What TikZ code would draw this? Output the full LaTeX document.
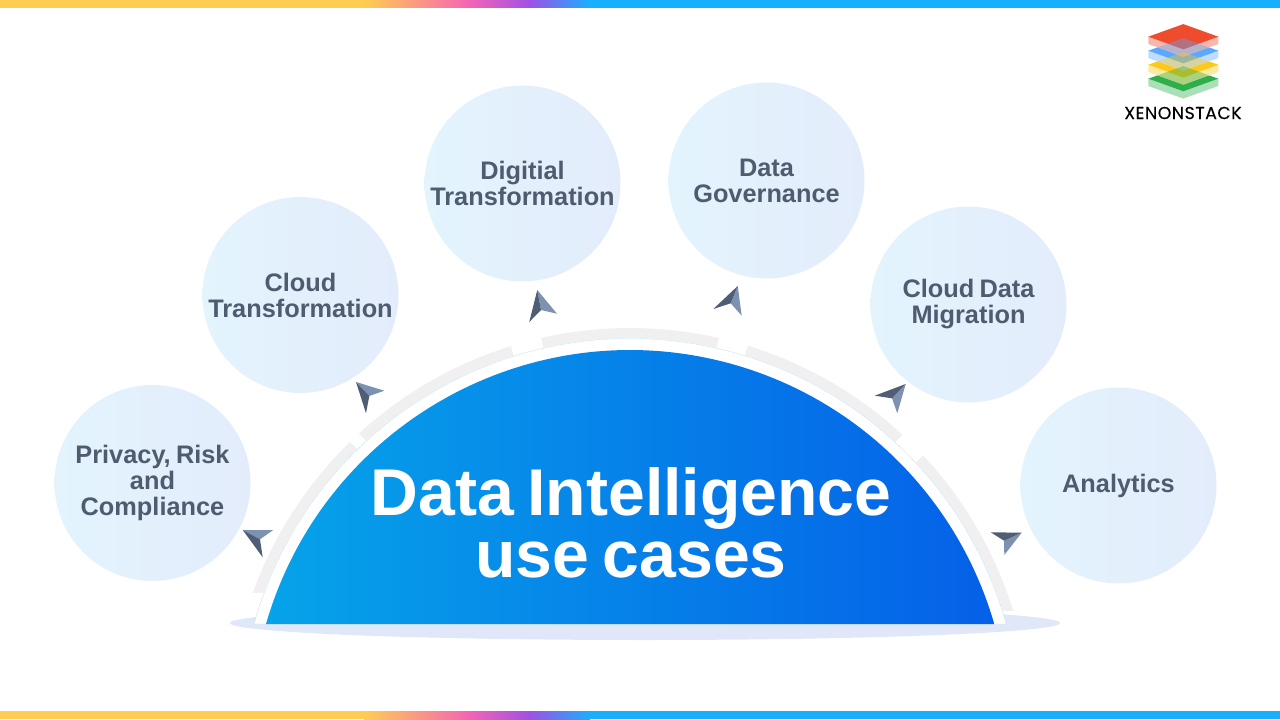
\documentclass[tikz,border=0pt]{standalone}
\usepackage{fontspec}
\usepackage{tikz}
\setmainfont[WordSpace=0.75]{Liberation Sans}
\newfontfamily\logofont[FakeBold=0.3,LetterSpace=3]{Poppins}

\definecolor{barYellow}{HTML}{FFCD50}
\definecolor{barPink}{HTML}{F564B4}
\definecolor{barPurple}{HTML}{A050E6}
\definecolor{barBlue}{HTML}{19AFFF}
\definecolor{domeLeft}{HTML}{06A3E9}
\definecolor{domeRight}{HTML}{0560E8}
\definecolor{bubbleLeft}{HTML}{E3F4FD}
\definecolor{bubbleRight}{HTML}{E3ECFB}
\definecolor{bubbleText}{HTML}{4F5B6E}
\definecolor{arcGray}{HTML}{F0F0F0}
\definecolor{ringLine}{HTML}{B5DCF5}
\definecolor{baseBlue}{HTML}{DFE7F8}
\definecolor{arrowDark}{HTML}{4F5E75}
\definecolor{arrowLight}{HTML}{7D92B0}
\definecolor{logoRed}{HTML}{EF4B2D}
\definecolor{logoBlue}{HTML}{5AA9FF}
\definecolor{logoYellow}{HTML}{FFC814}
\definecolor{logoGreen}{HTML}{2DB04B}

\tikzset{
  bubble/.style={circle,minimum size=196*0.75pt,inner sep=0pt,align=center,
    left color=bubbleLeft,right color=bubbleRight,text=bubbleText,
    font=\fontsize{19}{19.5}\selectfont\bfseries},
  grayarc/.style={fill=arcGray,draw=none},
}

\begin{document}
\begin{tikzpicture}[x=0.75pt,y=-0.75pt]
    \useasboundingbox (0,0) rectangle (1280,720);

    % Draw colour bars
    \foreach \y in {0,711} {
      \fill[barYellow] (0,\y) rectangle (365,\y+8);
      \shade[left color=barYellow,right color=barPink] (364,\y) rectangle (470,\y+8);
      \shade[left color=barPink,right color=barPurple] (469,\y) rectangle (530,\y+8);
      \shade[left color=barPurple,right color=barBlue] (529,\y) rectangle (590,\y+8);
      \fill[barBlue] (589,\y) rectangle (1280,\y+8);
    }

    % Draw base
    \fill[baseBlue] (645,623) ellipse (415 and 17);

    % Draw gray arcs
    \foreach \a/\b/\ymax in {196/225.7/592,227.5/252.7/700,257.2/282.8/700,287.1/312.8/700,317/346/610} {
      \begin{scope}
        \clip (0,0) rectangle (1280,\ymax);
        \fill[grayarc] (630,729) ++(\a:391) arc (\a:\b:391) -- ++(\b:10) arc (\b:\a:401) -- cycle;
      \end{scope}
    }

    % Draw dome
    \fill[white,draw=ringLine,very thin] (254,624) arc (195.6:344.4:390.5) -- cycle;
    \shade[left color=domeLeft,right color=domeRight] (266,624) arc (196.1:343.9:379) -- cycle;

    % Draw pointers
    \foreach \ax/\ay/\bx/\by/\cx/\cy/\nx/\ny in {
        242.7/530/273.3/530/262.7/557.3/260/539.3,
        356/382/384.3/390.7/366/413.3/369.3/396,
        537.3/290/557/313.7/529.3/322/541/310,
        737.7/286/741.7/315.7/713.3/309/730.7/303.3,
        905.7/384/897.3/413.3/874.7/395.7/892/398.3,
        1021.7/532.7/1004.3/555/990.7/532.3/1004/540.7} {
      \fill[arrowLight] (\ax,\ay) -- (\bx,\by) -- (\nx,\ny) -- cycle;
      \fill[arrowDark] (\ax,\ay) -- (\cx,\cy) -- (\nx,\ny) -- cycle;
    }

    % Draw bubbles
    \node[bubble] (privacy) at (152.5,483) {Privacy, Risk\\and\\Compliance};
    \node[bubble] (cloud) at (300.5,295) {Cloud\\Transformation};
    \node[bubble] (digital) at (522.5,183.5) {Digitial\\Transformation};
    \node[bubble] (governance) at (766.5,180.5) {Data\\Governance};
    \node[bubble] (migration) at (968.5,304.5) {Cloud Data\\Migration};
    \node[bubble] (analytics) at (1118.5,485.5) {Analytics};

    % Draw title
    \node[text=white,align=center,font=\fontsize{49.6}{46.5}\selectfont\bfseries] (title) at (631,523) {Data Intelligence\\use cases};

    % Draw logo layers
    \foreach \y/\col in {78.7/logoGreen,64.7/logoYellow,50.7/logoBlue,36.7/logoRed} {
      \fill[white] (1148.3,\y) -- (1183.3,\y+12.6) -- (1218.3,\y) -- (1218.3,\y+7.3)
        -- (1183.3,\y+19.9) -- (1148.3,\y+7.3) -- cycle;
      \fill[\col,opacity=0.4] (1148.3,\y) -- (1183.3,\y+12.6) -- (1218.3,\y) -- (1218.3,\y+7.3)
        -- (1183.3,\y+19.9) -- (1148.3,\y+7.3) -- cycle;
      \fill[\col] (1148.3,\y) -- (1183.3,\y-12.6) -- (1218.3,\y) -- (1183.3,\y+12.6) -- cycle;
    }

    % Draw logo overlaps
    \foreach \y/\col in {36.7/logoBlue,50.7/logoYellow,64.7/logoGreen} {
      \begin{scope}
        \clip (1148.3,\y) -- (1183.3,\y-12.6) -- (1218.3,\y) -- (1218.3,\y+7.3)
          -- (1183.3,\y+19.9) -- (1148.3,\y+7.3) -- cycle;
        \fill[\col,opacity=0.4] (1148.3,\y+14) -- (1183.3,\y+1.4) -- (1218.3,\y+14) -- (1183.3,\y+26.6) -- cycle;
      \end{scope}
    }
    \node[font=\logofont\fontsize{13}{14}\selectfont,text=black] (logotext) at (1183,113) {XENONSTACK};
\end{tikzpicture}
\end{document}
